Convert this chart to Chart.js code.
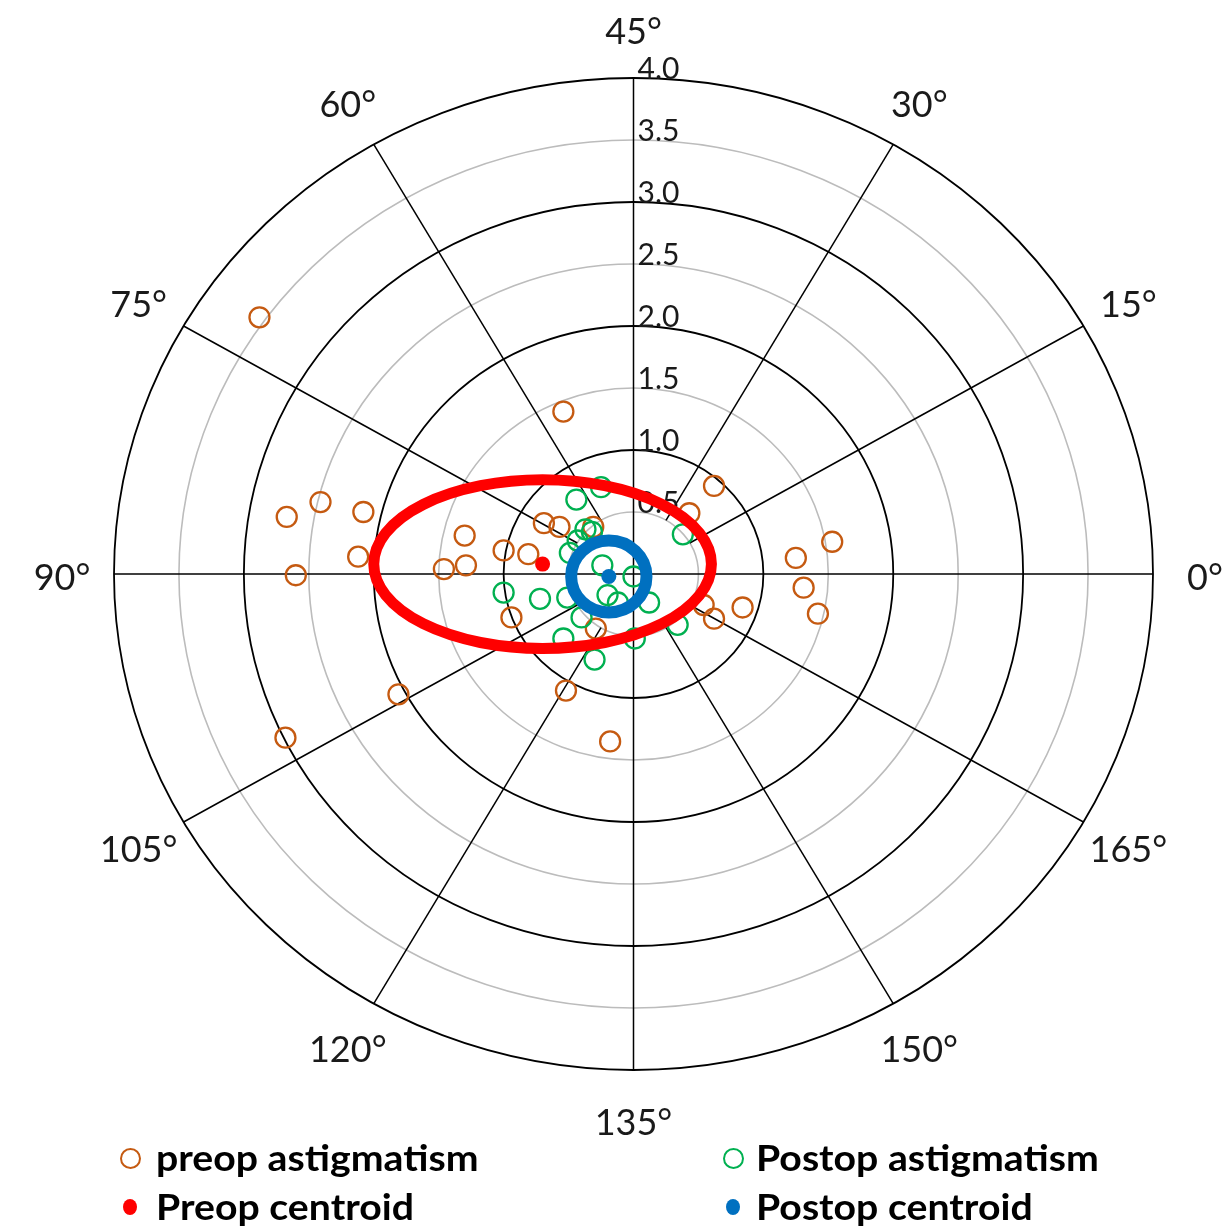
<!DOCTYPE html>
<html>
<head>
<meta charset="utf-8">
<title>Astigmatism double-angle plot</title>
<script src="https://cdn.jsdelivr.net/npm/chart.js@4.4.1/dist/chart.umd.min.js"></script>
<style>
  html, body { margin: 0; padding: 0; background: #ffffff; }
  #wrap { position: relative; width: 1230px; height: 1229px; overflow: hidden; }
  #plot { position: absolute; left: 0; top: 0; }
  .mk { position: absolute; box-sizing: border-box; border-radius: 50%; }
  .lt { position: absolute; font-family: Lato, "Open Sans", sans-serif; font-weight: 700;
        font-size: 37px; line-height: 44px; color: #000; white-space: nowrap;
        transform: scaleX(1.06); transform-origin: left center; }
</style>
</head>
<body>
<div id="wrap">
  <canvas id="plot" width="1230" height="1229"></canvas>
  <span class="mk" style="left:120px;top:1148px;width:21px;height:21px;border:2px solid #c55a11;"></span>
  <div class="lt" style="left:156px;top:1135px;">preop astigmatism</div>
  <span class="mk" style="left:723px;top:1148px;width:21px;height:21px;border:2px solid #00b050;"></span>
  <div class="lt" style="left:756px;top:1135px;">Postop astigmatism</div>
  <span class="mk" style="left:123px;top:1199px;width:14px;height:16px;background:#ff0000;"></span>
  <div class="lt" style="left:156px;top:1184px;">Preop centroid</div>
  <span class="mk" style="left:726px;top:1199px;width:14px;height:16px;background:#0070c0;"></span>
  <div class="lt" style="left:756px;top:1184px;">Postop centroid</div>
</div>
<script>
// Double-angle vector components (dioptres) of each eye's astigmatism.
const preopX = [-2.88, -0.54, -2.67, -2.41, -2.08, -2.12, -2.60, -1.30, -1.29, -1.46,
                -1.00, -0.81, -0.69, -0.57, -0.31, -0.94, -0.29, -0.52, -0.18, -1.81,
                -2.68, 0.62, 0.43, 1.25, 1.53, 1.31, 0.84, 0.62, 0.54, 1.42];
const preopY = [2.07, 1.31, 0.46, 0.58, 0.50, 0.14, -0.01, 0.31, 0.07, 0.04,
                0.19, 0.16, 0.41, 0.38, 0.38, -0.35, -0.44, -0.94, -1.35, -0.97,
                -1.32, 0.71, 0.49, 0.13, 0.26, -0.11, -0.27, -0.36, -0.25, -0.32];
const postopX = [-0.44, -0.25, -0.37, -0.32, -0.43, -0.49, -0.24, -0.20, -0.12, -1.00,
                 -0.72, -0.51, -0.40, -0.54, -0.30, 0.00, 0.01, 0.38, 0.12, 0.34];
const postopY = [0.60, 0.70, 0.36, 0.34, 0.27, 0.17, 0.07, -0.17, -0.23, -0.15,
                 -0.20, -0.19, -0.35, -0.52, -0.69, -0.02, -0.52, 0.32, -0.23, -0.41];

// Centroids [x, y] and their confidence ellipses [centre x, centre y, semi-axis x, semi-axis y].
const preopCentroid = [-0.70, 0.08];
const postopCentroid = [-0.19, -0.02];
const preopEllipse = [-0.70, 0.08, 1.30, 0.68];
const postopEllipse = [-0.19, -0.02, 0.29, 0.29];

// Polar grid: ring values with their tick labels, and the axis (meridian) labels.
const ringValues = [0.5, 1.0, 1.5, 2.0, 2.5, 3.0, 3.5, 4.0];
const ringLabels = ['0.5', '1.0', '1.5', '2.0', '2.5', '3.0', '3.5', '4.0'];
const axisDegrees = [0, 15, 30, 45, 60, 75, 90, 105, 120, 135, 150, 165];
const axisLabels = ['0°', '15°', '30°', '45°', '60°', '75°', '90°', '105°', '120°', '135°', '150°', '165°'];
const maxRadius = 4.0;

const pairs = (xs, ys) => xs.map((v, i) => ({ x: v, y: ys[i] }));

const ellipseList = [
  { e: preopEllipse, color: '#ff0000', width: 11 },
  { e: postopEllipse, color: '#0070c0', width: 12 }
];

// Draws the rings, meridian spokes, ring values and meridian labels under the data.
const polarGrid = {
  id: 'polarGrid',
  beforeDatasetsDraw(chart) {
    const { ctx } = chart;
    const xs = chart.scales.x, ys = chart.scales.y;
    const cx = xs.getPixelForValue(0), cy = ys.getPixelForValue(0);
    const at = (r, t) => [xs.getPixelForValue(r * Math.cos(t)), ys.getPixelForValue(r * Math.sin(t))];
    ctx.save();
    ringValues.forEach((r, i) => {
      const rx = xs.getPixelForValue(r) - cx;
      const ry = cy - ys.getPixelForValue(r);
      const major = i % 2 === 1;
      ctx.beginPath();
      ctx.ellipse(cx, cy, rx, ry, 0, 0, Math.PI * 2);
      ctx.strokeStyle = major ? '#000000' : '#bcbcbc';
      ctx.lineWidth = major ? 1.8 : 1.6;
      ctx.stroke();
    });
    // Principal meridians cross the centre; the oblique ones start at the first ring.
    ctx.strokeStyle = '#000000';
    ctx.lineWidth = 1.5;
    axisDegrees.forEach(d => {
      const t = 2 * d * Math.PI / 180;
      const inner = d % 45 === 0 ? 0 : ringValues[0];
      const [x0, y0] = at(inner, t);
      const [x1, y1] = at(maxRadius, t);
      ctx.beginPath();
      ctx.moveTo(x0, y0);
      ctx.lineTo(x1, y1);
      ctx.stroke();
    });
    ctx.fillStyle = '#1a1a1a';
    ctx.font = '30px Lato, "Open Sans", sans-serif';
    ctx.textAlign = 'left';
    ctx.textBaseline = 'alphabetic';
    ringValues.forEach((r, i) => {
      ctx.fillText(ringLabels[i], cx + 4, ys.getPixelForValue(r) + 1);
    });
    ctx.font = '36px Lato, "Open Sans", sans-serif';
    ctx.textAlign = 'center';
    ctx.textBaseline = 'middle';
    axisDegrees.forEach((d, i) => {
      const [px, py] = at(maxRadius, 2 * d * Math.PI / 180);
      ctx.fillText(axisLabels[i], cx + (px - cx) * 1.1, cy + (py - cy) * 1.1 + 4);
    });
    ctx.restore();
  },
  // Confidence ellipses go on top of the individual eyes, under the centroid dots.
  afterDatasetDraw(chart, args) {
    if (args.index !== 2) return;
    const { ctx } = chart;
    const xs = chart.scales.x, ys = chart.scales.y;
    ctx.save();
    ellipseList.forEach(({ e, color, width }) => {
      const ex = xs.getPixelForValue(e[0]), ey = ys.getPixelForValue(e[1]);
      const rx = xs.getPixelForValue(e[0] + e[2]) - ex;
      const ry = ey - ys.getPixelForValue(e[1] + e[3]);
      ctx.beginPath();
      ctx.ellipse(ex, ey, rx, ry, 0, 0, Math.PI * 2);
      ctx.strokeStyle = color;
      ctx.lineWidth = width;
      ctx.stroke();
    });
    ctx.restore();
  }
};

new Chart(document.getElementById('plot'), {
  type: 'scatter',
  data: {
    datasets: [
      { label: 'Preop centroid', data: [{ x: preopCentroid[0], y: preopCentroid[1] }],
        pointRadius: 7.5, pointBackgroundColor: '#ff0000', pointBorderWidth: 0, order: 0 },
      { label: 'Postop centroid', data: [{ x: postopCentroid[0], y: postopCentroid[1] }],
        pointRadius: 7.5, pointBackgroundColor: '#0070c0', pointBorderWidth: 0, order: 1 },
      { label: 'Postop astigmatism', data: pairs(postopX, postopY),
        pointRadius: 10, pointBorderWidth: 2.3, pointBorderColor: '#00b050',
        pointBackgroundColor: 'rgba(0,0,0,0)', order: 2 },
      { label: 'preop astigmatism', data: pairs(preopX, preopY),
        pointRadius: 10, pointBorderWidth: 2.3, pointBorderColor: '#c55a11',
        pointBackgroundColor: 'rgba(0,0,0,0)', order: 3 }
    ]
  },
  options: {
    responsive: false,
    animation: false,
    events: [],
    layout: { padding: { left: 114, right: 77, top: 78, bottom: 159 } },
    scales: {
      x: { type: 'linear', min: -maxRadius, max: maxRadius, display: false },
      y: { type: 'linear', min: -maxRadius, max: maxRadius, display: false }
    },
    plugins: { legend: { display: false }, tooltip: { enabled: false } }
  },
  plugins: [polarGrid]
});
</script>
</body>
</html>
